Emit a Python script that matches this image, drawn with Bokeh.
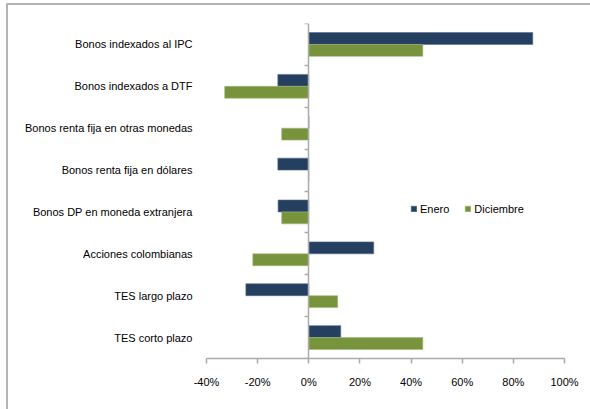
from bokeh.plotting import figure
from bokeh.models import (LinearAxis, FixedTicker, PrintfTickFormatter, Legend, LegendItem,
                          Range1d, ColumnDataSource)
from bokeh.embed import file_html
from bokeh.resources import INLINE

categories = [
    "Bonos indexados al IPC",
    "Bonos indexados a DTF",
    "Bonos renta fija en otras monedas",
    "Bonos renta fija en dólares",
    "Bonos DP en moneda extranjera",
    "Acciones colombianas",
    "TES largo plazo",
    "TES corto plazo",
]
enero = [87.6, -12.1, 0.0, -12.1, -12.0, 25.4, -24.6, 12.5]
diciembre = [44.6, -32.9, -10.6, 0.0, -10.6, -21.9, 11.3, 44.6]
x_ticks = [-40, -20, 0, 20, 40, 60, 80, 100]
series_names = ["Enero", "Diciembre"]

C_ENE = "#243F60"
C_DIC = "#77933C"
AX = "#ababab"
FONT = "Liberation Sans"

n = len(categories)
centers = [n - i - 0.5 for i in range(n)]
bw = 0.285
src = ColumnDataSource(dict(
    y_ene=[c + bw / 2 for c in centers],
    y_dic=[c - bw / 2 for c in centers],
    ene=enero, dic=diciembre,
))

p = figure(width=590, height=409, output_backend="svg", toolbar_location=None,
           x_range=Range1d(x_ticks[0], x_ticks[-1]), y_range=Range1d(0, n),
           min_border_left=206, min_border_right=26, min_border_top=23, min_border_bottom=51)
p.outline_line_color = None
p.xgrid.visible = False
p.ygrid.visible = False
p.border_fill_color = None
p.background_fill_color = None
p.styles = {"box-shadow": "inset 6px 3px 0 0 #ffffff, inset 8px 5px 0 0 #b4b4b4",
            "background-color": "#ffffff"}

r1 = p.hbar(y="y_ene", left=0, right="ene", height=bw, source=src,
            fill_color=C_ENE, line_color="#5a6f8a", line_width=0.6)
r2 = p.hbar(y="y_dic", left=0, right="dic", height=bw, source=src,
            fill_color=C_DIC, line_color="#a3b97a", line_width=0.6)

# x axis
xa = p.xaxis[0]
xa.ticker = FixedTicker(ticks=x_ticks)
xa.formatter = PrintfTickFormatter(format="%d%%")
xa.axis_line_color = AX
xa.axis_line_width = 1.5
xa.major_tick_line_color = AX
xa.major_tick_line_width = 1.5
xa.major_tick_out = 5
xa.major_tick_in = 0
xa.minor_tick_line_color = None
xa.major_label_standoff = 12
xa.major_label_text_font = FONT
xa.major_label_text_font_size = "11px"
xa.major_label_text_color = "#000000"

# y axis (labels only)
ya = p.yaxis[0]
ya.ticker = FixedTicker(ticks=centers)
ya.major_label_overrides = {c: lab for c, lab in zip(centers, categories)}
ya.axis_line_color = None
ya.major_tick_line_color = None
ya.minor_tick_line_color = None
ya.major_label_standoff = 8
ya.major_label_text_font = FONT
ya.major_label_text_font_size = "11px"
ya.major_label_text_color = "#000000"

# zero axis with category boundary ticks
za = LinearAxis(fixed_location=0, ticker=FixedTicker(ticks=list(range(n + 1))))
za.axis_line_color = AX
za.axis_line_width = 1.5
za.major_tick_line_color = AX
za.major_tick_line_width = 1.5
za.major_tick_in = 4
za.major_tick_out = 0
za.minor_tick_line_color = None
za.major_label_text_font_size = "0px"
za.major_label_text_color = None
p.add_layout(za, "right")

legend = Legend(items=[LegendItem(label=series_names[0], renderers=[r1]),
                       LegendItem(label=series_names[1], renderers=[r2])],
                orientation="horizontal", location=(204, 143))
legend.glyph_width = 7
legend.glyph_height = 7
legend.label_standoff = 3
legend.spacing = 15
legend.padding = 0
legend.margin = 0
legend.border_line_color = None
legend.background_fill_alpha = 0
legend.label_text_font = FONT
legend.label_text_font_size = "11px"
legend.label_height = 13
legend.label_text_color = "#000000"
p.add_layout(legend, "center")

open("out.html", "w").write(file_html(p, INLINE))
